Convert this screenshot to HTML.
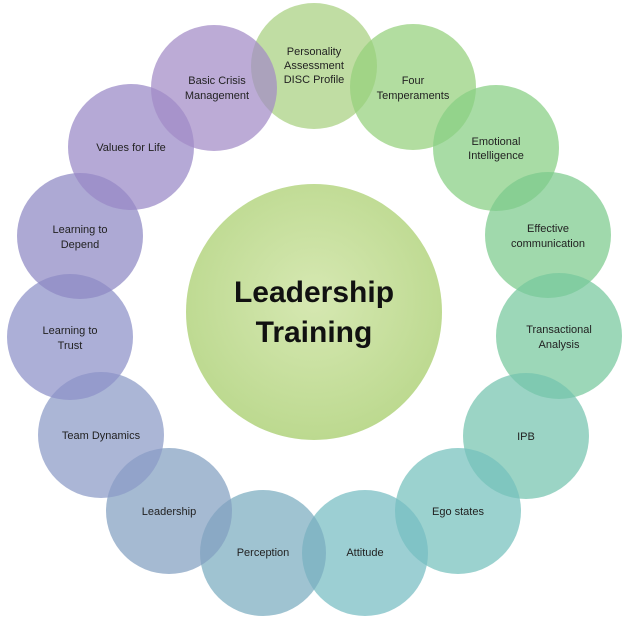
<!DOCTYPE html>
<html><head><style>body{margin:0;background:#fff}svg{display:block}</style></head><body>
<svg width="629" height="619" viewBox="0 0 629 619" xmlns="http://www.w3.org/2000/svg" font-family="Liberation Sans, sans-serif" font-size="11" fill="#222">
<defs><radialGradient id="g" cx="50%" cy="45%" r="55%"><stop offset="0" stop-color="#d6e8b2"/><stop offset="1" stop-color="#bcd98f"/></radialGradient></defs>
<g fill-opacity="0.72">
<circle cx="314" cy="66" r="63" fill="#a8d080"/>
<circle cx="413" cy="87" r="63" fill="#94d07c"/>
<circle cx="496" cy="148" r="63" fill="#86cf82"/>
<circle cx="548" cy="235" r="63" fill="#7ccb8c"/>
<circle cx="559" cy="336" r="63" fill="#76c79c"/>
<circle cx="526" cy="436" r="63" fill="#74c4ae"/>
<circle cx="458" cy="511" r="63" fill="#74c0bc"/>
<circle cx="365" cy="553" r="63" fill="#76bcc2"/>
<circle cx="263" cy="553" r="63" fill="#7aacbf"/>
<circle cx="169" cy="511" r="63" fill="#82a0c0"/>
<circle cx="101" cy="435" r="63" fill="#8a9ac6"/>
<circle cx="70" cy="337" r="63" fill="#8c90c8"/>
<circle cx="80" cy="236" r="63" fill="#8e88c4"/>
<circle cx="131" cy="147" r="63" fill="#9888c6"/>
<circle cx="214" cy="88" r="63" fill="#a28ac6"/>
</g>
<circle cx="314" cy="312" r="128" fill="url(#g)"/>
<g text-anchor="middle">
<text x="314" y="55">Personality</text><text x="314" y="69">Assessment</text><text x="314" y="83">DISC Profile</text>
<text x="413" y="84">Four</text><text x="413" y="99">Temperaments</text>
<text x="496" y="145">Emotional</text><text x="496" y="159">Intelligence</text>
<text x="548" y="232">Effective</text><text x="548" y="247">communication</text>
<text x="559" y="333">Transactional</text><text x="559" y="348">Analysis</text>
<text x="526" y="440">IPB</text>
<text x="458" y="515">Ego states</text>
<text x="365" y="556">Attitude</text>
<text x="263" y="556">Perception</text>
<text x="169" y="515">Leadership</text>
<text x="101" y="439">Team Dynamics</text>
<text x="70" y="334">Learning to</text><text x="70" y="349">Trust</text>
<text x="80" y="233">Learning to</text><text x="80" y="248">Depend</text>
<text x="131" y="151">Values for Life</text>
<text x="217" y="84">Basic Crisis</text><text x="217" y="99">Management</text>
<text x="314" y="302" font-size="30" font-weight="bold" fill="#111">Leadership</text>
<text x="314" y="342" font-size="30" font-weight="bold" fill="#111">Training</text>
</g>
</svg>
</body></html>
